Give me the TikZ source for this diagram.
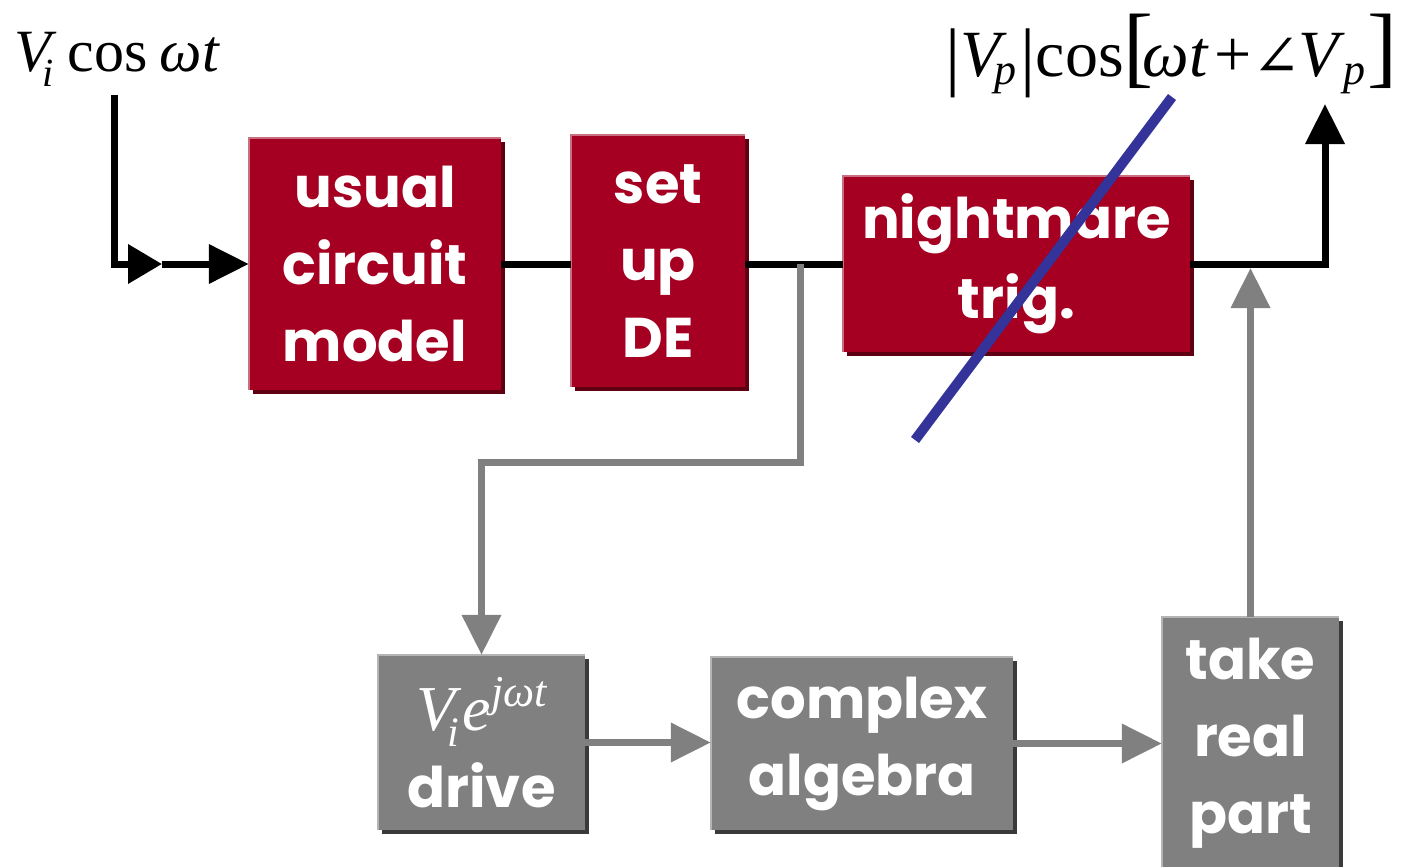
\documentclass[tikz,border=0pt]{standalone}
\usepackage{fontspec}
\setmainfont{Liberation Serif}
\newfontfamily\boxfont{Poppins}
\newfontfamily\symfont{DejaVu Serif}
\usetikzlibrary{arrows.meta,shadows}
\definecolor{boxred}{HTML}{A50021}
\definecolor{redshadow}{HTML}{5E0012}
\definecolor{redlight}{HTML}{C8707F}
\definecolor{boxgray}{HTML}{808080}
\definecolor{grayshadow}{HTML}{3A3A3A}
\definecolor{graylight}{HTML}{B4B4B4}
\definecolor{strike}{HTML}{333399}
\newcommand\dn[2][6pt]{\raisebox{-#1}{#2}}
\tikzset{
  basebox/.style={text=white, align=center, inner sep=0pt,
    font=\boxfont\bfseries\fontsize{56}{77}\selectfont},
  redbox/.style={basebox, fill=boxred,
    drop shadow={shadow xshift=4pt, shadow yshift=-4pt, opacity=1, fill=redshadow}},
  graybox/.style={basebox, fill=boxgray,
    drop shadow={shadow xshift=4pt, shadow yshift=-4pt, opacity=1, fill=grayshadow}},
  blk/.style={line width=7pt, draw=black},
  gry/.style={line width=7pt, draw=boxgray},
  tipA/.style={-{Triangle[length=40pt,width=38pt]}},
  tipB/.style={-{Triangle[length=34pt,width=38pt]}},
  strikeline/.style={line width=10pt, draw=strike},
  lbl/.style={inner sep=0pt, anchor=base west}
}
\begin{document}
\begin{tikzpicture}[x=1pt,y=-1pt]
\useasboundingbox (0,0) rectangle (1401,867);
% boxes
\node[redbox, minimum width=252pt, minimum height=252pt] (usual) at (375,264) {\dn[3pt]{usual}\\\dn[3pt]{circuit}\\\dn[3pt]{model}};
\node[redbox, minimum width=174pt, minimum height=252pt] (setup) at (658,261) {\dn{set}\\\dn{up}\\\dn{DE}};
\node[redbox, minimum width=347pt, minimum height=176pt] (night) at (1016.5,264) {\dn[8pt]{nightmare}\\[3pt]\dn[8pt]{trig.}};
\node[graybox, minimum width=207pt, minimum height=175pt] (drive) at (481.5,742.5)
  {{\fontspec{Liberation Serif}\itshape\mdseries\fontsize{64}{77}\selectfont V\kern-8pt\raisebox{-16pt}{\fontsize{42}{42}\selectfont i}\kern4pt e\raisebox{24pt}{\fontsize{44}{44}\selectfont jωt}}\\drive};
\node[graybox, minimum width=302pt, minimum height=173pt] (cplx) at (862,743.5) {\dn{complex}\\\dn{algebra}};
\node[graybox, minimum width=177pt, minimum height=253pt] (take) at (1250.5,743.5) {\dn[8pt]{take}\\\dn[8pt]{real}\\\dn[8pt]{part}};
% light top/left edges
\foreach \n/\c in {usual/redlight, setup/redlight, night/redlight, drive/graylight, cplx/graylight, take/graylight}{
  \draw[\c, line width=2.5pt] (\n.south west) -- (\n.north west) -- (\n.north east);
}
% labels
\node[lbl] (vin) at (14,72) {\fontsize{60}{60}\selectfont\itshape V\kern-8pt\raisebox{-15pt}{\fontsize{40}{40}\selectfont i}\kern14pt\upshape cos\kern12pt\itshape ωt};
\node[lbl] (vout) at (945,77) {\fontsize{66}{66}\selectfont \raisebox{-5pt}{\fontsize{76}{76}\selectfont |}\itshape V\kern-6pt\raisebox{-8pt}{\fontsize{44}{44}\selectfont p}\kern4pt\upshape\raisebox{-5pt}{\fontsize{76}{76}\selectfont |}cos{\fontsize{90}{90}\selectfont [}\kern-11pt\itshape ωt\kern7pt\upshape +\kern0pt{\symfont\fontsize{58}{58}\selectfont ∠}\kern-2pt\itshape V\kern5pt\raisebox{-8pt}{\fontsize{44}{44}\selectfont p}\kern2pt\upshape{\fontsize{90}{90}\selectfont ]}};
% coordinates
\coordinate (inA) at (114,95);
\coordinate (mid) at (162,264);
\coordinate (outT) at (1325,104);
\coordinate (br) at (800,264);
\coordinate (bend) at (800,462);
\coordinate (upT) at (1250.5,268);
\coordinate (s1) at (1172,97);
\coordinate (s2) at (915,440);
% black path
\draw[blk, tipB] (inA) |- (mid);
\draw[blk, tipA] (mid) -- (usual.west);
\draw[blk] (usual.east) -- (usual.east -| setup.west);
\draw[blk] (night.west -| setup.east) -- (night.west);
\draw[blk, tipA] (night.east) -| (outT);
% gray path
\draw[gry, tipA] (br) -- (bend) -| (drive.north);
\draw[gry, tipA] (drive.east) -- (drive.east -| cplx.west);
\draw[gry, tipA] (cplx.east) -- (take.west);
\draw[gry, tipA] (take.north) -- (upT);
% strike
\draw[strikeline] (s1) -- (s2);
\end{tikzpicture}
\end{document}
